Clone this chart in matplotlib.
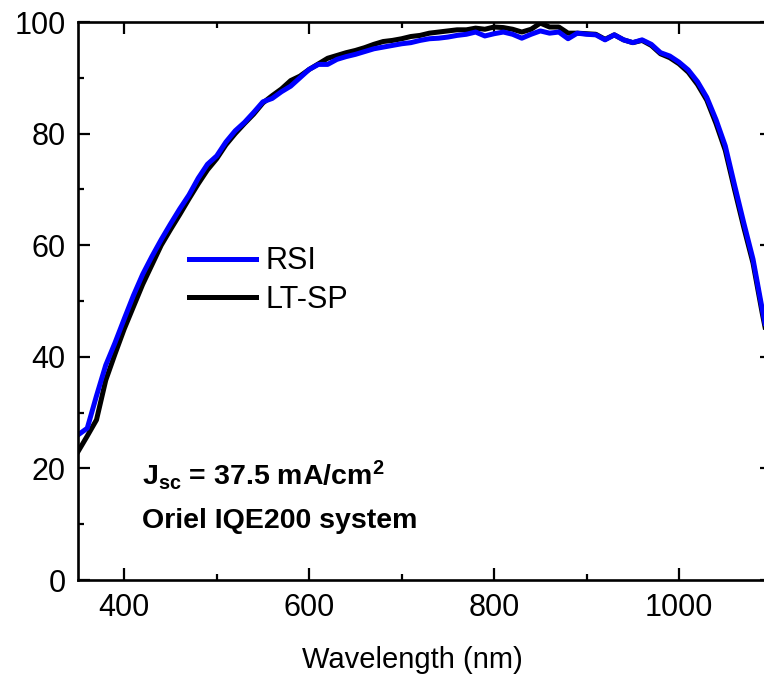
import numpy as np
import matplotlib
matplotlib.use("Agg")
import matplotlib.pyplot as plt
from matplotlib.ticker import MultipleLocator

plt.rcParams.update({
    "font.family": ["Liberation Sans", "DejaVu Sans"],
    "mathtext.fontset": "custom",
    "mathtext.rm": "Liberation Sans",
    "mathtext.bf": "Liberation Sans:bold",
    "mathtext.it": "Liberation Sans:italic",
})

# -----------------------------
# Data
# -----------------------------
wavelength = np.arange(350, 1101, 10)

rsi = [26.0, 27.2, 33.0, 38.5, 42.5, 46.8, 51.0, 54.8, 58.0, 61.0,
       63.8, 66.5, 69.0, 72.0, 74.5, 76.0, 78.5, 80.5, 82.0, 83.8,
       85.7, 86.3, 87.5, 88.5, 90.0, 91.5, 92.4, 92.4, 93.3, 93.8,
       94.2, 94.7, 95.2, 95.5, 95.8, 96.1, 96.3, 96.7, 97.0, 97.1,
       97.3, 97.6, 97.8, 98.2, 97.5, 97.9, 98.2, 97.8, 97.1, 97.8,
       98.4, 98.0, 98.2, 97.0, 98.0, 97.8, 97.7, 96.8, 97.7, 96.8,
       96.3, 96.8, 96.0, 94.5, 93.9, 92.8, 91.4, 89.3, 86.5, 82.5,
       77.8, 70.8, 64.0, 57.5, 48.5, 40.0]

lt_sp = [23.0, 25.8, 28.7, 35.8, 40.5, 45.0, 49.0, 53.0, 56.5, 60.0,
         62.8, 65.5, 68.3, 71.0, 73.5, 75.5, 78.0, 80.0, 81.8, 83.5,
         85.5, 86.8, 88.0, 89.5, 90.3, 91.5, 92.5, 93.5, 94.0, 94.5,
         94.9, 95.4, 96.0, 96.5, 96.7, 97.0, 97.4, 97.6, 98.0, 98.2,
         98.4, 98.6, 98.6, 98.9, 98.7, 99.1, 99.0, 98.7, 98.2, 98.7,
         99.8, 99.1, 99.1, 98.0, 98.0, 97.9, 97.8, 96.9, 97.7, 96.8,
         96.3, 96.7, 95.8, 94.3, 93.6, 92.5, 91.0, 88.8, 86.0, 81.8,
         77.0, 70.0, 63.2, 56.8, 47.8, 39.5]

# -----------------------------
# Figure
# -----------------------------
fig = plt.figure(figsize=(7.64, 6.77), dpi=100)
# right spine sits just past the image edge, as in the reference
ax = fig.add_axes([78 / 764, 97 / 677, 693.5 / 764, 558 / 677])

ax.plot(wavelength, lt_sp, color="black", lw=3.6, label="LT-SP")
ax.plot(wavelength, rsi, color="#0000ff", lw=3.6, label="RSI")

ax.set_xlim(350, 1100)
ax.set_ylim(0, 100)
ax.xaxis.set_major_locator(MultipleLocator(200))
ax.xaxis.set_minor_locator(MultipleLocator(100))
ax.yaxis.set_major_locator(MultipleLocator(20))
ax.yaxis.set_minor_locator(MultipleLocator(10))

for side in ax.spines.values():
    side.set_linewidth(1.9)
ax.tick_params(which="both", direction="in", top=True, right=True,
               width=1.6, labelsize=22)
ax.tick_params(which="major", length=8.5, pad=9)
ax.tick_params(which="minor", length=4.5)

ax.set_xlabel("Wavelength (nm)", fontsize=21)
ax.xaxis.set_label_coords(0.482, -0.118)

handles, labels = ax.get_legend_handles_labels()
ax.legend(handles[::-1], labels[::-1], loc="upper left",
          bbox_to_anchor=(0.16, 0.598), frameon=False, fontsize=22,
          handlelength=2.2, handletextpad=0.3, labelspacing=0.27,
          borderpad=0, borderaxespad=0)

ax.text(0.092, 0.170, r"$\mathbf{J_{sc}}$ = 37.5 mA/cm$^{\mathbf{2}}$",
        transform=ax.transAxes, fontsize=20.5, fontweight="bold",
        va="baseline")
ax.text(0.092, 0.093, "Oriel IQE200 system",
        transform=ax.transAxes, fontsize=20.5, fontweight="bold",
        va="baseline")

fig.savefig("out.png", dpi=100)
plt.close(fig)
